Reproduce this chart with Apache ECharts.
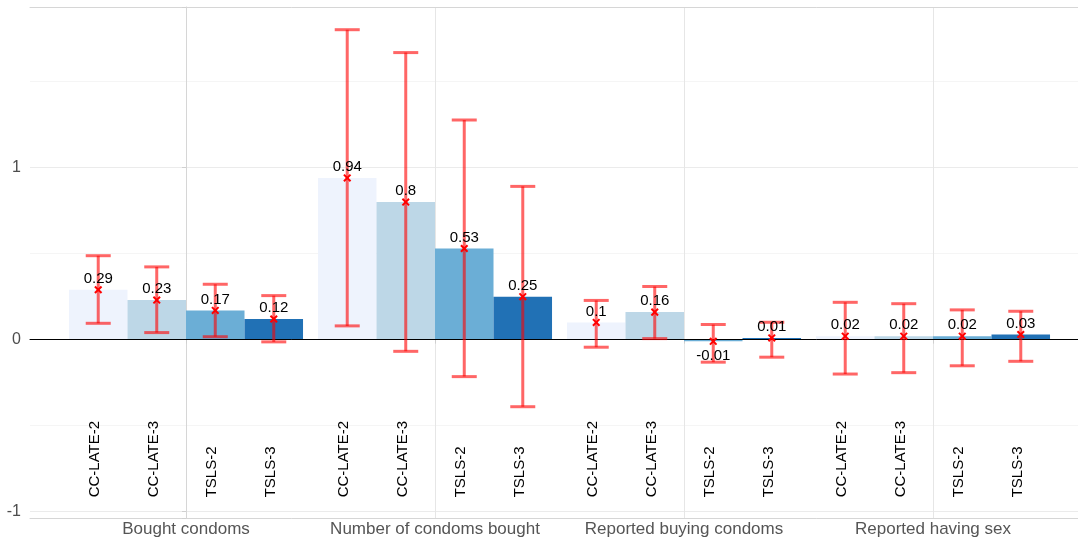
<!DOCTYPE html>
<html>
<head>
<meta charset="utf-8">
<script src="https://cdn.jsdelivr.net/npm/echarts@6.0.0/dist/echarts.min.js"></script>
<style>
  html, body { margin: 0; padding: 0; background: #ffffff; }
  #chart { width: 1078px; height: 543px; }
</style>
</head>
<body>
<div id="chart"></div>
<script>
// ---- data ----
const groups = ['Bought condoms', 'Number of condoms bought', 'Reported buying condoms', 'Reported having sex'];
const methods = ['CC-LATE-2', 'CC-LATE-3', 'TSLS-2', 'TSLS-3'];

const estCCLATE2 = [0.29, 0.94, 0.10, 0.02];
const estCCLATE3 = [0.23, 0.80, 0.16, 0.02];
const estTSLS2   = [0.17, 0.53, -0.01, 0.02];
const estTSLS3   = [0.12, 0.25, 0.01, 0.03];

const lowCCLATE2 = [0.095, 0.080, -0.044, -0.200];
const lowCCLATE3 = [0.041, -0.068, 0.006, -0.192];
const lowTSLS2   = [0.017, -0.215, -0.131, -0.152];
const lowTSLS3   = [-0.013, -0.390, -0.102, -0.126];

const highCCLATE2 = [0.488, 1.802, 0.228, 0.217];
const highCCLATE3 = [0.423, 1.669, 0.309, 0.209];
const highTSLS2   = [0.322, 1.277, 0.088, 0.173];
const highTSLS3   = [0.256, 0.891, 0.101, 0.165];

const yTicks = [-1, 0, 1];

// ---- build ----
const estimates = [estCCLATE2, estCCLATE3, estTSLS2, estTSLS3];
const lows = [lowCCLATE2, lowCCLATE3, lowTSLS2, lowTSLS3];
const highs = [highCCLATE2, highCCLATE3, highTSLS2, highTSLS3];
const colors = ['#eef3fd', '#bdd7e7', '#6baed6', '#2171b5'];
const FONT = "'Liberation Sans', Arial, Helvetica, sans-serif";
const CAT_GAP = 0.06;
const Y_MIN = -1.037, Y_MAX = 1.934;
const FRAME = '#d6d6d6';

const annot = [];
for (let g = 0; g < groups.length; g++) {
  for (let k = 0; k < methods.length; k++) {
    annot.push([g, estimates[k][g], lows[k][g], highs[k][g], k]);
  }
}

function renderItem(params, api) {
  const g = api.value(0), v = api.value(1), lo = api.value(2), hi = api.value(3), k = api.value(4);
  const base = api.coord([g, 0]);
  const bw = api.size([1, 0])[0] * (1 - CAT_GAP) / methods.length;
  const cx = base[0] + (k - (methods.length - 1) / 2) * bw;
  const yv = api.coord([g, v])[1];
  const yl = api.coord([g, lo])[1];
  const yh = api.coord([g, hi])[1];
  const ylab = api.coord([g, -0.917])[1];
  const cap = 12.5, m = 3.3;
  const eb = { stroke: 'rgba(255,0,0,0.6)', lineWidth: 3 };
  const mk = { stroke: '#ff0000', lineWidth: 2 };
  return {
    type: 'group',
    children: [
      { type: 'line', shape: { x1: cx, y1: yl, x2: cx, y2: yh }, style: eb },
      { type: 'line', shape: { x1: cx - cap, y1: yh, x2: cx + cap, y2: yh }, style: eb },
      { type: 'line', shape: { x1: cx - cap, y1: yl, x2: cx + cap, y2: yl }, style: eb },
      { type: 'line', shape: { x1: cx - m, y1: yv - m, x2: cx + m, y2: yv + m }, style: mk },
      { type: 'line', shape: { x1: cx - m, y1: yv + m, x2: cx + m, y2: yv - m }, style: mk },
      { type: 'text', x: cx, y: v >= 0 ? yv - 11 : yv + 14,
        style: { text: String(v), fill: '#000', fontSize: 15, fontFamily: FONT, align: 'center', verticalAlign: 'middle' } },
      { type: 'text', x: cx - 3, y: ylab, rotation: Math.PI / 2,
        style: { text: methods[k], fill: '#000', fontSize: 15, fontFamily: FONT, align: 'left', verticalAlign: 'middle' } }
    ]
  };
}

const gridTop = 7, gridH = 511;
const option = {
  animation: false,
  backgroundColor: '#ffffff',
  textStyle: { fontFamily: FONT },
  grid: [
    { left: 30, top: gridTop, right: 0, height: gridH },
    { left: 61.5, top: gridTop, width: 996, height: gridH },
    { left: 30, top: gridTop, right: 0, height: gridH }
  ],
  xAxis: [
    { gridIndex: 0, type: 'value', min: -0.6265, max: 3.5823, position: 'bottom',
      axisLine: { show: true, onZero: false, lineStyle: { color: FRAME, width: 1 } },
      axisTick: { show: false }, axisLabel: { show: false },
      splitLine: { show: true, showMinLine: false, showMaxLine: false, lineStyle: { color: '#e6e6e6', width: 1 } } },
    { gridIndex: 1, type: 'category', data: groups, position: 'bottom',
      axisLine: { show: false },
      axisTick: { show: true, alignWithLabel: true, length: 4, lineStyle: { color: '#cfcfcf' } },
      axisLabel: { interval: 0, fontSize: 17, color: '#555555', margin: 3, fontFamily: FONT },
      splitLine: { show: false } },
    { gridIndex: 2, type: 'value', min: 0, max: 1, z: 3,
      axisLine: { show: true, onZero: true, lineStyle: { color: '#000000', width: 1 } },
      axisTick: { show: false }, axisLabel: { show: false }, splitLine: { show: false } },
    { gridIndex: 0, type: 'value', min: 0, max: 1, position: 'top',
      axisLine: { show: true, onZero: false, lineStyle: { color: FRAME, width: 1 } },
      axisTick: { show: false }, axisLabel: { show: false }, splitLine: { show: false } }
  ],
  yAxis: [
    { gridIndex: 0, type: 'value', min: Y_MIN, max: Y_MAX, splitNumber: 3,
      axisLine: { show: true, lineStyle: { color: FRAME, width: 1 } },
      axisTick: { show: true, length: 4, lineStyle: { color: '#d0d0d0' } },
      axisLabel: { fontSize: 16, color: '#4d4d4d', margin: 9, fontFamily: FONT,
        formatter: v => yTicks.some(t => Math.abs(t - v) < 1e-9) ? String(Math.round(v)) : '' },
      splitLine: { show: true, showMinLine: false, showMaxLine: false, lineStyle: { color: '#ebebeb', width: 1 } },
      minorTick: { show: false, splitNumber: 2 },
      minorSplitLine: { show: true, lineStyle: { color: '#f5f5f5', width: 1 } } },
    { gridIndex: 1, type: 'value', min: Y_MIN, max: Y_MAX, show: false, splitLine: { show: false } },
    { gridIndex: 2, type: 'value', min: Y_MIN, max: Y_MAX, show: false, splitLine: { show: false } }
  ],
  series: [
    ...methods.map((name, k) => ({
      name: name, type: 'bar', xAxisIndex: 1, yAxisIndex: 1,
      data: estimates[k], barGap: '0%', barCategoryGap: (CAT_GAP * 100) + '%',
      itemStyle: { color: colors[k] }, z: 2
    })),
    { type: 'custom', xAxisIndex: 1, yAxisIndex: 1, data: annot, renderItem: renderItem, z: 5,
      encode: { x: 0, y: 1 }, silent: true }
  ]
};

const chart = echarts.init(document.getElementById('chart'), null, { renderer: 'canvas' });
chart.setOption(option);
</script>
</body>
</html>
